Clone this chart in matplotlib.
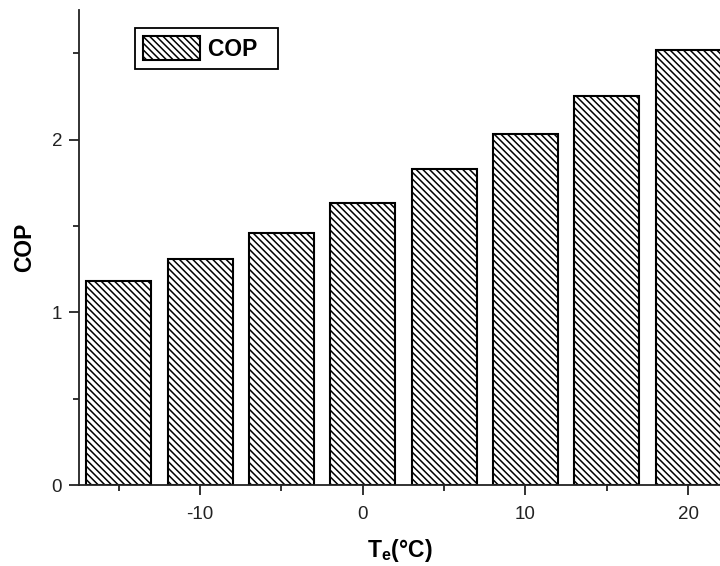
import matplotlib
matplotlib.use("Agg")
import matplotlib.pyplot as plt
from matplotlib.ticker import MultipleLocator

# evaporator temperature (°C) and coefficient of performance
temps = [-15, -10, -5, 0, 5, 10, 15, 20]
cop = [1.18, 1.31, 1.46, 1.635, 1.83, 2.035, 2.25, 2.52]

plt.rcParams['font.family'] = ['Liberation Sans', 'DejaVu Sans']
plt.rcParams['mathtext.fontset'] = 'custom'
plt.rcParams['mathtext.rm'] = 'Liberation Sans'
plt.rcParams['mathtext.bf'] = 'Liberation Sans:bold'
plt.rcParams['axes.unicode_minus'] = False
plt.rcParams['hatch.linewidth'] = 1.1
plt.rcParams['hatch.color'] = '#3a3a3a'

fig = plt.figure(figsize=(7.2, 5.66), dpi=100)
ax = fig.add_axes([0.1097, 0.1431, 0.8903, 0.8392])

ax.bar(temps, cop, width=4, color='white', edgecolor='black',
       linewidth=1.5, hatch='\\\\\\\\\\', label='COP  ')

ax.set_xlim(-17.45, 21.96)
ax.set_ylim(0, 2.75)

ax.xaxis.set_major_locator(MultipleLocator(10))
ax.xaxis.set_minor_locator(MultipleLocator(5))
ax.yaxis.set_major_locator(MultipleLocator(1))
ax.yaxis.set_minor_locator(MultipleLocator(0.5))

ax.spines['top'].set_visible(False)
ax.spines['right'].set_visible(False)
for s in ('left', 'bottom'):
    ax.spines[s].set_linewidth(1.3)
    ax.spines[s].set_color('#222222')

ax.tick_params(which='major', direction='out', length=7.2, width=1.3,
               labelsize=13.5, colors='#222222', pad=5)
ax.tick_params(axis='x', which='major', pad=8)
ax.tick_params(which='minor', direction='out', length=4.3, width=1.3,
               colors='#222222')

ax.set_xlabel(r'$\mathbf{T_e}$(°C)', fontsize=16.5, fontweight='bold',
              labelpad=10)
ax.set_ylabel('COP', fontsize=16.5, fontweight='bold', labelpad=11)

leg = ax.legend(loc='upper left', bbox_to_anchor=(0.0874, 0.962),
                borderaxespad=0, prop={'weight': 'bold', 'size': 16.5},
                fancybox=False, framealpha=1, edgecolor='black',
                handlelength=2.5, handleheight=1.26, borderpad=0.35,
                handletextpad=0.35)
leg.get_frame().set_linewidth(1.3)

fig.savefig('out.png', dpi=100)
